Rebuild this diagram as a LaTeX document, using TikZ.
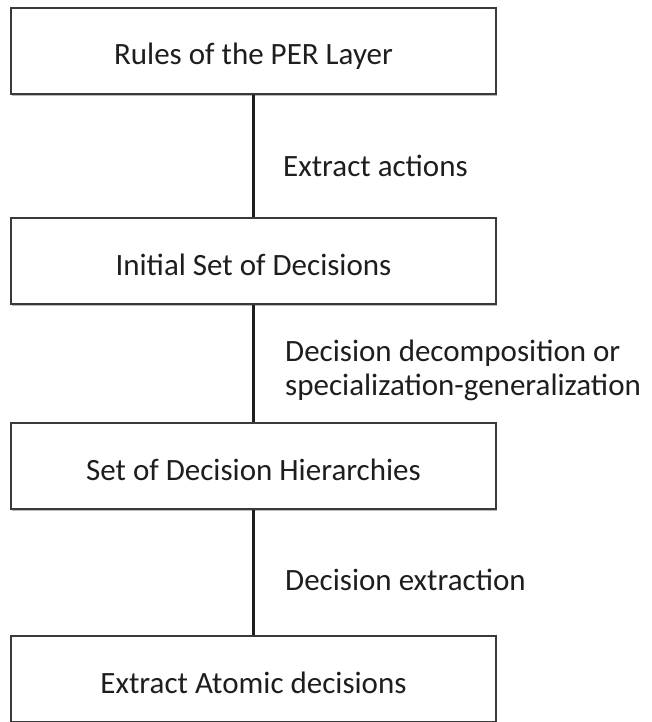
\documentclass[tikz,border=0pt]{standalone}
\usepackage{fontspec}
\setmainfont{Carlito}
\usetikzlibrary{shadows}
\definecolor{ink}{HTML}{1E1E1E}
\definecolor{frame}{HTML}{3A3A3A}
\tikzset{
  stagebox/.style={draw=frame, line width=1.3pt, fill=white,
    minimum width=485pt, minimum height=86pt, inner sep=0pt,
    text height=30pt, text depth=2pt,
    font=\fontsize{31}{34}\selectfont, text=ink,
    drop shadow={shadow xshift=1.2pt, shadow yshift=-1.6pt, opacity=0.45, fill=black!60}},
  steplabel/.style={anchor=west, inner sep=0pt, align=left,
    font=\fontsize{31}{34}\selectfont, text=ink},
  link/.style={draw=ink, line width=2.4pt}
}
\begin{document}
\begin{tikzpicture}[x=1pt, y=-1pt]
  \useasboundingbox (0,0) rectangle (651,722);
  % the four stages, top to bottom
  \node[stagebox] (rules)  at (253.5, 51)  {Rules of the PER Layer};
  \node[stagebox] (init)   at (253.5, 261) {Initial Set of Decisions};
  \node[stagebox] (hier)   at (253.5, 466) {Set of Decision Hierarchies};
  \node[stagebox] (atomic) at (253.5, 679) {Extract Atomic decisions};

  % plain vertical links between consecutive stages
  \draw[link] (rules.south) -- (init.north);
  \draw[link] (init.south) -- (hier.north);
  \draw[link] (hier.south) -- (atomic.north);

  % step names beside the links
  \node[steplabel] (lab1) at (283, 166) {Extract actions};
  \node[steplabel] (lab2) at (285, 370) {Decision decomposition or\\specialization-generalization};
  \node[steplabel] (lab3) at (285, 580) {Decision extraction};
\end{tikzpicture}
\end{document}
